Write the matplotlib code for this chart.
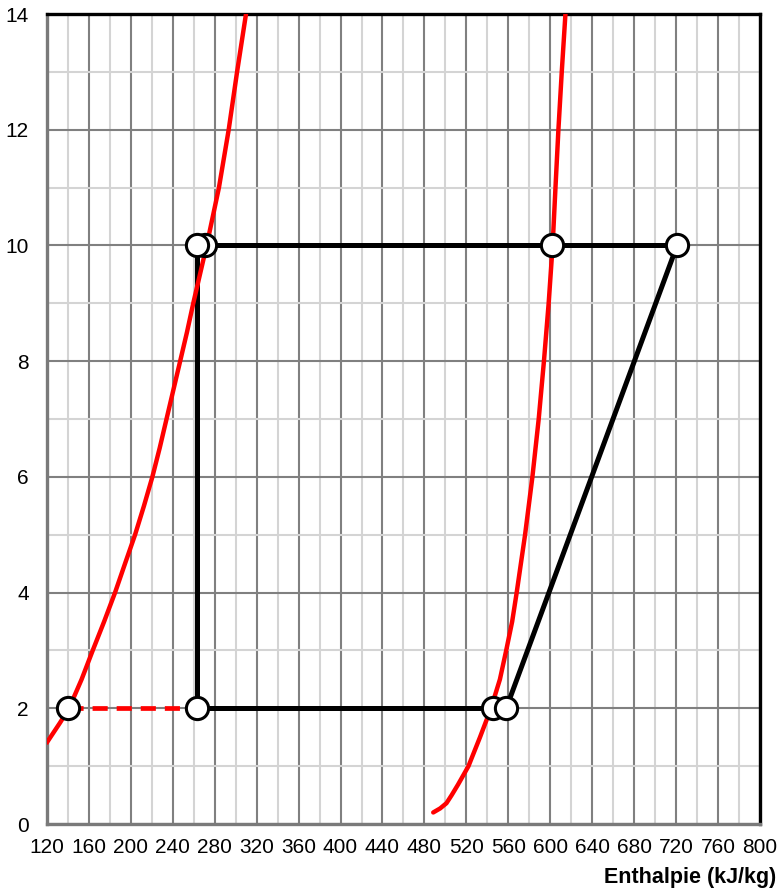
import matplotlib
matplotlib.use("Agg")
import matplotlib.pyplot as plt
from matplotlib.ticker import MultipleLocator

plt.rcParams["font.family"] = ["Liberation Sans", "DejaVu Sans"]

# saturation curves: enthalpy (kJ/kg), pressure (bar)
liq_h = [120.3, 132.4, 141, 153, 163.6, 174.5, 184.9, 194.4, 204, 212.5, 220.5,
         227.5, 234, 240.5, 247, 253.5, 259.5, 272.3, 284, 293.3, 301.3, 309.8]
liq_p = [1.42, 1.75, 2, 2.5, 3, 3.5, 4, 4.5, 5, 5.5, 6,
         6.5, 7, 7.5, 8, 8.5, 9, 10, 11, 12, 13, 14]
vap_h = [488.4, 495, 501, 506, 512, 522, 533, 543.5, 552, 558, 563.7, 568,
         576, 583, 589, 594, 598.5, 602.3, 605, 607.8, 611, 614.5]
vap_p = [0.2, 0.27, 0.36, 0.5, 0.68, 1, 1.5, 2, 2.5, 3, 3.5, 4,
         5, 6, 7, 8, 9, 10, 11, 12, 13, 14]

# cycle state points
p_low, p_high = 2.0, 10.0
h_liq_low = 140      # saturated liquid at low pressure
h_exp = 263          # expansion valve
h_cond_out = 271     # leaving condenser
h_vap_high = 602     # saturated vapour, high pressure
h_comp_out = 721     # compressor outlet
h_evap_out = 545     # saturated vapour, low pressure
h_comp_in = 558      # compressor inlet (superheated)

fig = plt.figure(figsize=(7.77, 8.92), dpi=100)
ax = fig.add_axes([0.0605, 0.0762, 0.9175, 0.9081])

ax.set_xlim(120, 800)
ax.set_ylim(0, 14)
ax.xaxis.set_major_locator(MultipleLocator(40))
ax.xaxis.set_minor_locator(MultipleLocator(20))
ax.yaxis.set_major_locator(MultipleLocator(2))
ax.yaxis.set_minor_locator(MultipleLocator(1))
ax.grid(True, which="minor", color="#d4d4d4", lw=1.5, zorder=0)
ax.grid(True, which="major", color="#808080", lw=1.5, zorder=0)
ax.set_axisbelow(True)
ax.tick_params(which="both", length=0, labelsize=15)
ax.tick_params(axis="x", pad=10)
ax.tick_params(axis="y", pad=13)

for side in ("top", "right"):
    ax.spines[side].set_color("black")
    ax.spines[side].set_linewidth(2.4)
for side in ("left", "bottom"):
    ax.spines[side].set_color("#7a7a7a")
    ax.spines[side].set_linewidth(2.4)

# cycle lines
lw_c = 3.6
ax.plot([h_exp, h_exp], [p_high, p_low], color="black", lw=lw_c, zorder=3,
        solid_capstyle="butt")
ax.plot([h_cond_out, h_comp_out], [p_high, p_high], color="black", lw=lw_c, zorder=3)
ax.plot([h_comp_in, h_comp_out], [p_low, p_high], color="black", lw=lw_c, zorder=3)
ax.plot([h_exp, h_evap_out], [p_low, p_low], color="black", lw=lw_c, zorder=3)
ax.plot([h_liq_low, h_exp], [p_low, p_low], color="red", lw=3.4, zorder=3,
        linestyle=(0, (3.2, 1.9)))

# saturation curves
ax.plot(liq_h, liq_p, color="red", lw=3.2, zorder=4, solid_joinstyle="round")
ax.plot(vap_h, vap_p, color="red", lw=3.2, zorder=4, solid_joinstyle="round",
        solid_capstyle="round")

# state points
pts_h = [h_liq_low, h_exp, h_evap_out, h_comp_in, h_cond_out, h_exp, h_vap_high, h_comp_out]
pts_p = [p_low, p_low, p_low, p_low, p_high, p_high, p_high, p_high]
for h, p in zip(pts_h, pts_p):
    ax.plot(h, p, "o", ms=16, mfc="white", mec="black", mew=2.2, zorder=5,
            clip_on=False)

fig.text(0.999, 0.0168, "Enthalpie (kJ/kg)", ha="right", va="center",
         fontsize=15.5, fontweight="bold")

fig.savefig("out.png", dpi=100)
